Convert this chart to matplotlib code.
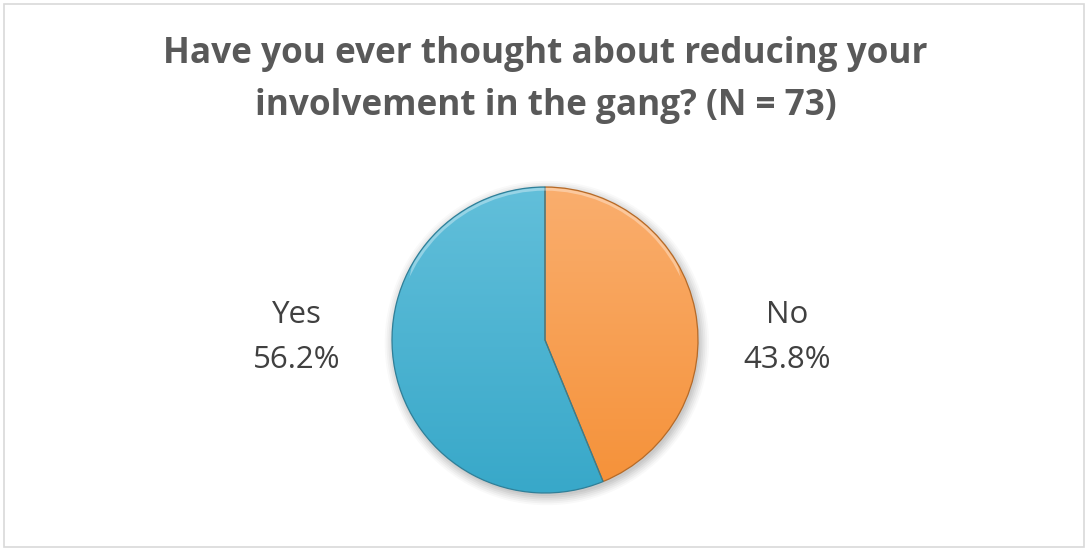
import numpy as np
import matplotlib
matplotlib.use("Agg")
import matplotlib.pyplot as plt
from matplotlib.colors import LinearSegmentedColormap
from matplotlib.patches import Rectangle, Circle

# Survey answers (N = 73)
categories = ["No", "Yes"]
shares = [43.8, 56.2]
title_lines = ["Have you ever thought about reducing your",
               "involvement in the gang? (N = 73)"]

# top/bottom gradient colours and edge colour per slice
fills = {"No": ("#FAAE6E", "#F59138", "#B56A28"),
         "Yes": ("#62BFDA", "#38A8C9", "#2F7F98")}

W, H = 1086, 549
fig = plt.figure(figsize=(W / 100, H / 100), dpi=100)
fig.patch.set_facecolor("white")

# outer frame of the chart area
fig.add_artist(Rectangle((4 / W, 2 / H), (W - 6) / W, (H - 6) / H,
                         transform=fig.transFigure, fill=False,
                         edgecolor="#D9D9D9", linewidth=1.2))

for line, base in zip(title_lines, [63, 115]):
    fig.text(545.5 / W, 1 - base / H, line, ha="center", va="baseline",
             fontsize=25.3, fontweight="bold", color="#595959",
             family="Open Sans")

cx, cy, r = 545, 340, 153
ax = fig.add_axes([(cx - r) / W, (H - cy - r) / H, 2 * r / W, 2 * r / H])
ax.set_xlim(-1, 1)
ax.set_ylim(-1, 1)
ax.set_aspect("equal")
ax.axis("off")

# soft drop shadow
for k, a in zip(range(6), [0.05, 0.045, 0.04, 0.035, 0.03, 0.025]):
    ax.add_patch(Circle((0.012, -0.02), 1.0 + 0.012 * k, color="black",
                        alpha=a, lw=0, zorder=0, clip_on=False))

wedges, _ = ax.pie(shares, startangle=90, counterclock=False, radius=1.0,
                   wedgeprops=dict(linewidth=0.9), center=(0, 0), frame=False)
ax.set_xlim(-1, 1)
ax.set_ylim(-1, 1)

grad = np.linspace(0, 1, 256).reshape(-1, 1)
for w, name in zip(wedges, categories):
    top, bot, edge = fills[name]
    cmap = LinearSegmentedColormap.from_list(name, [top, bot])
    w.set_facecolor("none")
    w.set_edgecolor(edge)
    w.set_zorder(3)
    im = ax.imshow(grad, cmap=cmap, extent=(-1, 1, -1, 1), origin="upper",
                   aspect="auto", zorder=2, interpolation="bicubic")
    im.set_clip_path(w)

# white glint along the upper rim
rim = Circle((0, 0), 0.985, fill=False, edgecolor="white", lw=2.0, alpha=0.35, zorder=4)
ax.add_patch(rim)
rim.set_clip_path(Circle((0, 0.25), 0.9, transform=ax.transData))

# category name and share, one line each, placed beside the pie
label_x = {"No": 1.585, "Yes": -1.621}
for name, val in zip(categories, shares):
    for txt, y in zip([name, f"{val:.1f}%"], [0.111, -0.183]):
        ax.text(label_x[name], y, txt, ha="center", va="baseline",
                fontsize=22.5, color="#404040", family="Open Sans",
                clip_on=False)

fig.savefig("out.png", dpi=100)
